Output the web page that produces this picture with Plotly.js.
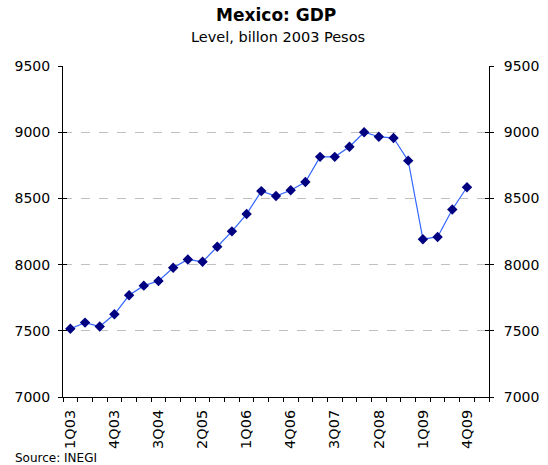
<!DOCTYPE html>
<html>
<head>
<meta charset="utf-8">
<script src="https://cdn.plot.ly/plotly-3.0.1.min.js"></script>
<style>
  html, body { margin: 0; padding: 0; background: #fff; }
  #chart { width: 548px; height: 465px; }
</style>
</head>
<body>
<div id="chart"></div>
<script>
// Quarterly GDP level, billion 2003 pesos (INEGI)
const quarters = [
  '1Q03','2Q03','3Q03','4Q03',
  '1Q04','2Q04','3Q04','4Q04',
  '1Q05','2Q05','3Q05','4Q05',
  '1Q06','2Q06','3Q06','4Q06',
  '1Q07','2Q07','3Q07','4Q07',
  '1Q08','2Q08','3Q08','4Q08',
  '1Q09','2Q09','3Q09','4Q09'
];
const gdp = [
  7515, 7562, 7532, 7625,
  7768, 7841, 7876, 7976,
  8039, 8021, 8135, 8251,
  8382, 8555, 8518, 8562,
  8624, 8814, 8814, 8890,
  9000, 8966, 8956, 8785,
  8192, 8209, 8416, 8584
];
// category slots on the axis (one spare slot after the last quarter)
const slotCount = quarters.length + 1;
const labelEvery = 3;

const xIdx = quarters.map((_, i) => i);
const labelVals = xIdx.filter(i => i % labelEvery === 0);
const labelText = labelVals.map(i => quarters[i]);
const boundaries = Array.from({length: slotCount + 1}, (_, i) => i - 0.5);

const font = '"DejaVu Sans", Verdana, sans-serif';
const yRange = [7000, 9500];
const yTickBase = {range: yRange, tick0: 7000, dtick: 500, tickmode: 'linear'};

const series = {
  x: xIdx, y: gdp, type: 'scatter', mode: 'lines+markers',
  line: {color: '#3366ff', width: 1.2},
  marker: {symbol: 'diamond', size: 8, color: '#000080'},
  hoverinfo: 'skip', showlegend: false
};
// transparent copies so the right-hand and tick-only axes get drawn
const ghost = ax => Object.assign({}, series, {yaxis: ax, opacity: 0});

const layout = {
  width: 548, height: 465,
  margin: {l: 63, r: 59, t: 66, b: 68},
  paper_bgcolor: '#fff', plot_bgcolor: '#fff',
  font: {family: font, color: '#000', size: 13},
  title: {
    text: '<b>Mexico: GDP</b>',
    font: {family: font, size: 17, color: '#000'},
    x: 0.504, xanchor: 'center', y: 0.968, yanchor: 'middle'
  },
  xaxis: {
    range: [-0.5, slotCount - 0.5],
    showline: true, linecolor: '#000', linewidth: 1,
    showgrid: false, zeroline: false,
    tickmode: 'array', tickvals: labelVals, ticktext: labelText,
    ticks: '', tickangle: -90, ticklabelstandoff: 6,
    tickfont: {family: font, size: 14.5, color: '#000'},
    minor: {tickmode: 'array', tickvals: boundaries, ticks: 'outside', ticklen: 4, tickcolor: '#000', tickwidth: 1, showgrid: false}
  },
  yaxis: Object.assign({}, yTickBase, {
    showline: true, linecolor: '#000', linewidth: 1,
    ticks: 'outside', ticklen: 4, tickcolor: '#000',
    showgrid: true, gridcolor: '#c0c0c0', gridwidth: 1, griddash: 'dash',
    zeroline: false, ticklabelstandoff: 5,
    tickfont: {family: font, size: 14, color: '#000'}
  }),
  yaxis2: Object.assign({}, yTickBase, {
    overlaying: 'y', side: 'right', anchor: 'x',
    showline: true, linecolor: '#000', linewidth: 1,
    ticks: 'outside', ticklen: 4, tickcolor: '#000',
    showgrid: false, zeroline: false, ticklabelstandoff: 7,
    tickfont: {family: font, size: 14, color: '#000'}
  }),
  yaxis3: Object.assign({}, yTickBase, {
    overlaying: 'y', side: 'left', anchor: 'x',
    ticks: 'inside', ticklen: 4, tickcolor: '#000',
    showticklabels: false, showgrid: false, zeroline: false, showline: false
  }),
  yaxis4: Object.assign({}, yTickBase, {
    overlaying: 'y', side: 'right', anchor: 'x',
    ticks: 'inside', ticklen: 4, tickcolor: '#000',
    showticklabels: false, showgrid: false, zeroline: false, showline: false
  }),
  annotations: [
    {
      text: 'Level, billon 2003 Pesos', xref: 'paper', yref: 'paper',
      x: 0.504, y: 1, yshift: 29, xanchor: 'center', yanchor: 'middle',
      showarrow: false, font: {family: font, size: 14.5, color: '#000'}
    },
    {
      text: 'Source: INEGI', xref: 'paper', yref: 'paper',
      x: 0, xshift: -50, y: 0, yshift: -61, xanchor: 'left', yanchor: 'middle',
      showarrow: false, font: {family: font, size: 12, color: '#000'}
    }
  ]
};

Plotly.newPlot('chart', [ghost('y2'), ghost('y3'), ghost('y4'), series], layout, {staticPlot: true, displayModeBar: false});
</script>
</body>
</html>
